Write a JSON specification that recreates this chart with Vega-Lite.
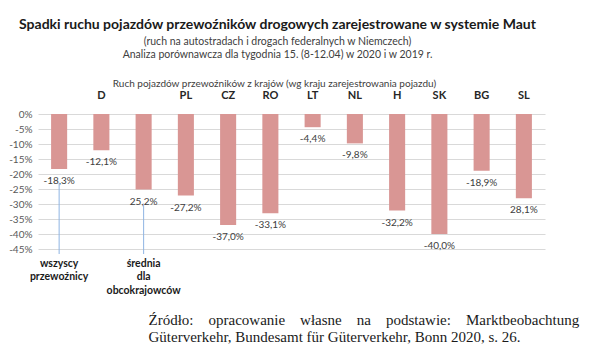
{
  "$schema": "https://vega.github.io/schema/vega-lite/v6.json",
  "width": 507,
  "height": 135,
  "padding": {"left": 8, "top": 17, "right": 5, "bottom": 5},
  "background": "white",
  "config": {
    "view": {"stroke": null},
    "font": "Lato",
    "axisY": {
      "grid": true, "gridColor": "#d9d9d9", "gridWidth": 1, "gridOpacity": 1,
      "domain": false, "ticks": false, "tickSize": 0, "tickCount": 12,
      "labelFont": "Lato", "labelFontSize": 10, "labelColor": "#595959", "labelPadding": 6,
      "labelOverlap": false, "labelBound": false
    }
  },
  "title": {
    "text": "Spadki ruchu pojazdów przewoźników drogowych zarejestrowane w systemie Maut",
    "subtitle": ["(ruch na autostradach i drogach federalnych w Niemczech)", "Analiza porównawcza dla tygodnia 15. (8-12.04) w 2020 i w 2019 r."],
    "anchor": "middle",
    "dx": -14,
    "font": "Lato",
    "fontSize": 14,
    "fontWeight": "bold",
    "color": "#1a1a1a",
    "subtitleFont": "Lato",
    "subtitleFontSize": 10.5,
    "subtitleColor": "#404040",
    "subtitleLineHeight": 13,
    "subtitlePadding": 5,
    "offset": 18
  },
  "data": {
    "values": [
      {"kraj": "wszyscy przewoźnicy", "zmiana": -18.3, "etykieta": "-18,3%"},
      {"kraj": "D", "zmiana": -12.1, "etykieta": "-12,1%"},
      {"kraj": "średnia dla obcokrajowców", "zmiana": -25.2, "etykieta": "25,2%"},
      {"kraj": "PL", "zmiana": -27.2, "etykieta": "-27,2%"},
      {"kraj": "CZ", "zmiana": -37.0, "etykieta": "-37,0%"},
      {"kraj": "RO", "zmiana": -33.1, "etykieta": "-33,1%"},
      {"kraj": "LT", "zmiana": -4.4, "etykieta": "-4,4%"},
      {"kraj": "NL", "zmiana": -9.8, "etykieta": "-9,8%"},
      {"kraj": "H", "zmiana": -32.2, "etykieta": "-32,2%"},
      {"kraj": "SK", "zmiana": -40.0, "etykieta": "-40,0%"},
      {"kraj": "BG", "zmiana": -18.9, "etykieta": "-18,9%"},
      {"kraj": "SL", "zmiana": -28.1, "etykieta": "28,1%"}
    ]
  },
  "layer": [
    {
      "mark": {"type": "bar", "color": "#d99694"},
      "encoding": {
        "x": {
          "field": "kraj", "type": "nominal",
          "sort": ["wszyscy przewoźnicy", "D", "średnia dla obcokrajowców", "PL", "CZ", "RO", "LT", "NL", "H", "SK", "BG", "SL"],
          "scale": {"paddingInner": 0.62, "paddingOuter": 0.31},
          "axis": {
            "orient": "top",
            "title": "Ruch pojazdów przewoźników z krajów (wg kraju zarejestrowania pojazdu)",
            "titleFont": "Lato", "titleFontSize": 10, "titleFontWeight": "normal", "titleColor": "#404040",
            "titleX": 236, "titleAlign": "center", "titlePadding": 1,
            "labelExpr": "length(datum.label) > 3 ? '' : datum.label",
            "labelAngle": 0, "labelFont": "Lato", "labelFontSize": 11, "labelFontWeight": "bold", "labelColor": "#262626",
            "labelPadding": 14, "domain": false, "ticks": false, "tickSize": 0, "grid": false
          }
        },
        "y": {
          "field": "zmiana", "type": "quantitative",
          "scale": {"domain": [-45, 0], "nice": false},
          "axis": {
            "title": null,
            "grid": true,
            "tickCount": 12,
            "values": [0, -5, -10, -15, -20, -25, -30, -35, -40, -45],
            "labelExpr": "datum.value + '%'"
          }
        }
      }
    },
    {
      "mark": {"type": "text", "baseline": "middle", "dy": 12, "font": "Lato", "fontSize": 10, "color": "#404040"},
      "encoding": {
        "x": {
          "field": "kraj", "type": "nominal",
          "sort": ["wszyscy przewoźnicy", "D", "średnia dla obcokrajowców", "PL", "CZ", "RO", "LT", "NL", "H", "SK", "BG", "SL"],
          "axis": null
        },
        "y": {"field": "zmiana", "type": "quantitative"},
        "text": {"field": "etykieta"}
      }
    },
    {
      "transform": [{"filter": "datum.kraj == 'wszyscy przewoźnicy' || datum.kraj == 'średnia dla obcokrajowców'"}],
      "mark": {"type": "rule", "color": "#8eb4e3", "strokeWidth": 1, "yOffset": 14, "y2Offset": 5},
      "encoding": {
        "x": {
          "field": "kraj", "type": "nominal",
          "sort": ["wszyscy przewoźnicy", "D", "średnia dla obcokrajowców", "PL", "CZ", "RO", "LT", "NL", "H", "SK", "BG", "SL"],
          "axis": {
            "orient": "bottom",
            "labelExpr": "datum.label == 'wszyscy przewoźnicy' ? ['wszyscy', 'przewoźnicy'] : datum.label == 'średnia dla obcokrajowców' ? ['średnia', 'dla', 'obcokrajowców'] : ''",
            "labelAngle": 0, "labelFont": "Lato", "labelFontSize": 10.5, "labelFontWeight": "bold", "labelColor": "#1a1a1a",
            "labelBaseline": "top", "labelLineHeight": 13.5, "labelPadding": 9,
            "domain": false, "ticks": false, "tickSize": 0, "grid": false,
            "title": ["Źródło:\u2003opracowanie\u2003własne\u2003na\u2003podstawie:\u2003Marktbeobachtung", "Güterverkehr, Bundesamt für Güterverkehr, Bonn 2020, s. 26."],
            "titleFont": "Liberation Serif", "titleFontSize": 15, "titleFontWeight": "normal", "titleColor": "#1a1a1a",
            "titleX": 110, "titleAlign": "left", "titleBaseline": "top", "titleLineHeight": 17, "titlePadding": 17
          }
        },
        "y": {"field": "zmiana", "type": "quantitative"},
        "y2": {"datum": -45}
      }
    }
  ],
  "resolve": {"axis": {"x": "independent"}}
}
